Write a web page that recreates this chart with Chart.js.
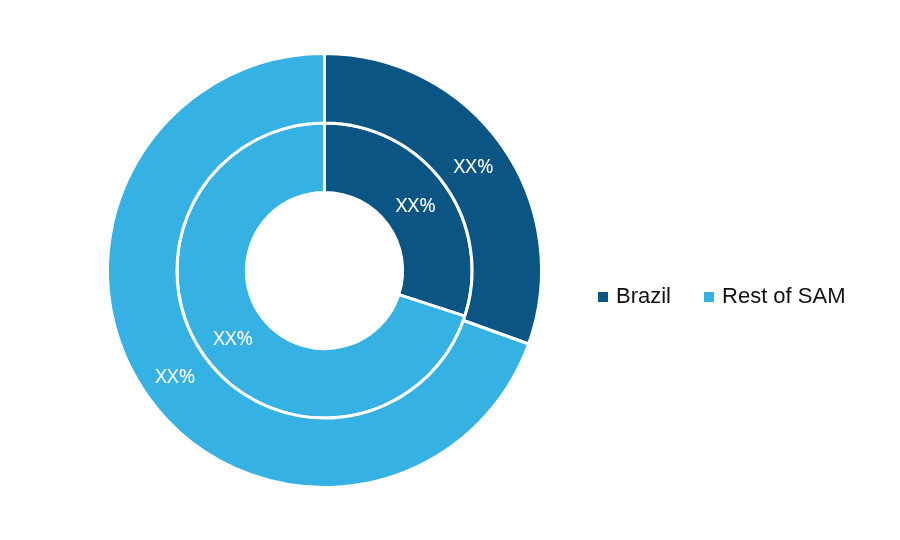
<!DOCTYPE html>
<html>
<head>
<meta charset="utf-8">
<script src="https://cdn.jsdelivr.net/npm/chart.js@4"></script>
<style>
  html, body { margin: 0; padding: 0; background: #fff; }
  #wrap { width: 900px; height: 540px; position: relative; }
</style>
</head>
<body>
<div id="wrap"><canvas id="chart"></canvas></div>
<script>
const categories = ['Brazil', 'Rest of SAM'];
const outerValues = [30.5, 69.5];
const innerValues = [30, 70];
const sliceLabels = ['XX%', 'XX%'];
const colors = ['#0b5585', '#35b1e3'];

// white XX% labels at slice centroids
const sliceLabelPlugin = {
  id: 'sliceLabels',
  afterDatasetsDraw(chart) {
    const ctx = chart.ctx;
    ctx.save();
    ctx.fillStyle = '#fff';
    ctx.font = '20px "Noto Sans", "DejaVu Sans", sans-serif';
    ctx.textAlign = 'center';
    ctx.textBaseline = 'middle';
    chart.data.datasets.forEach((ds, di) => {
      chart.getDatasetMeta(di).data.forEach((arc, i) => {
        const p = arc.tooltipPosition();
        ctx.fillText(sliceLabels[i], p.x, p.y + 2);
      });
    });
    ctx.restore();
  }
};

// horizontal legend to the right of the doughnut
const sideLegend = {
  id: 'sideLegend',
  afterDraw(chart) {
    const ctx = chart.ctx;
    ctx.save();
    ctx.font = '22px "Liberation Sans", Arial, sans-serif';
    ctx.textBaseline = 'middle';
    let x = 598;
    const y = 297;
    categories.forEach((c, i) => {
      ctx.fillStyle = colors[i];
      ctx.fillRect(x, y - 5, 10, 10);
      ctx.fillStyle = '#111';
      ctx.fillText(c, x + 18, y);
      x += 18 + ctx.measureText(c).width + 33;
    });
    ctx.restore();
  }
};

new Chart(document.getElementById('chart'), {
  type: 'doughnut',
  data: {
    labels: categories,
    datasets: [
      { data: outerValues, backgroundColor: colors, borderColor: '#fff', borderWidth: 3 },
      { data: innerValues, backgroundColor: colors, borderColor: '#fff', borderWidth: 3 }
    ]
  },
  options: {
    responsive: true,
    maintainAspectRatio: false,
    animation: false,
    cutout: '36%',
    layout: { padding: { left: 106, right: 357, top: 52, bottom: 51 } },
    plugins: { legend: { display: false }, tooltip: { enabled: false } }
  },
  plugins: [sliceLabelPlugin, sideLegend]
});
</script>
</body>
</html>
